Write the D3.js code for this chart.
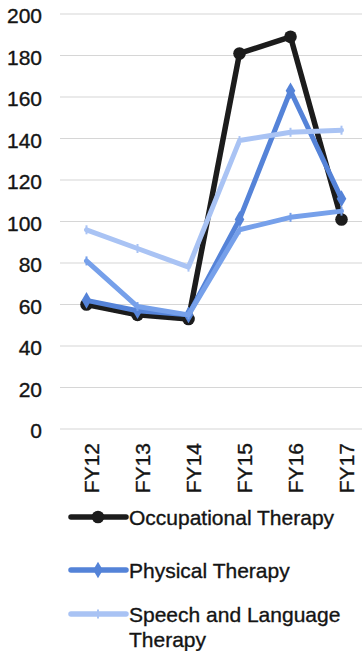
<!DOCTYPE html>
<html>
<head>
<meta charset="utf-8">
<script src="https://cdn.jsdelivr.net/npm/d3@7/dist/d3.min.js"></script>
<style>
  html, body { margin: 0; padding: 0; background: #fff; }
  svg { display: block; }
  text { font-family: "Liberation Sans", Arial, sans-serif; fill: #141414; stroke: #141414; stroke-width: 0.35px; }
</style>
</head>
<body>
<div id="chart"></div>
<script>
// Fiscal years on the category axis
const years = ["FY12", "FY13", "FY14", "FY15", "FY16", "FY17"];
const yTicks = [0, 20, 40, 60, 80, 100, 120, 140, 160, 180, 200];

// Caseload per therapy type
const occupational = [60, 55, 53, 181, 189, 101];
const physical = [62, 57, 55, 101, 163, 111];
const speechLanguage = [96, 87, 78, 139, 143, 144];
const fourthSeries = [81, 59, 55, 96, 102, 105];

const seriesNames = ["Occupational Therapy", "Physical Therapy", "Speech and Language Therapy", "Series 4"];
const seriesValues = [occupational, physical, speechLanguage, fourthSeries];

const W = 362, H = 651;
const colors = ["#1c1c1c", "#5483d8", "#a9c3f4", "#76a0ea"];
const markers = ["circle", "diamond", "tick", "tick"];

const svg = d3.select("#chart").append("svg").attr("width", W).attr("height", H);

// Slight softening applied to the plotted marks
const defs = svg.append("defs");
defs.append("filter").attr("id", "soft")
  .append("feGaussianBlur").attr("stdDeviation", 0.45);

const x = d3.scalePoint().domain(years).range([61, 367]).padding(0.5);
const y = d3.scaleLinear().domain([0, 200]).range([429, 14]);

// Horizontal gridlines
svg.append("g").selectAll("line").data(yTicks).join("line")
  .attr("x1", 60).attr("x2", W)
  .attr("y1", d => y(d)).attr("y2", d => y(d))
  .attr("stroke", "#d6d6d6").attr("stroke-width", 1.2);

// Y axis labels
const yAxis = svg.append("g").attr("transform", "translate(42,0)")
  .call(d3.axisLeft(y).tickValues(yTicks).tickSize(0).tickPadding(0));
yAxis.select(".domain").remove();
yAxis.selectAll("text").attr("font-size", 21).attr("dy", "0.42em")
  .style("font-family", "'Liberation Sans', Arial, sans-serif").attr("fill", "#141414");

// X axis labels, rotated
const xAxis = svg.append("g").attr("transform", "translate(0,443)")
  .call(d3.axisBottom(x).tickSize(0).tickPadding(0));
xAxis.select(".domain").remove();
xAxis.selectAll("text")
  .attr("font-size", 21)
  .attr("text-anchor", "end")
  .attr("transform", "rotate(-90)")
  .attr("x", 0).attr("y", 0).attr("dy", "0.58em")
  .style("font-family", "'Liberation Sans', Arial, sans-serif").attr("fill", "#141414");

const line = d3.line().x((d, i) => x(years[i])).y(d => y(d));

function drawMarker(g, kind, cx, cy, color) {
  if (kind === "circle") {
    g.append("circle").attr("cx", cx).attr("cy", cy).attr("r", 6.3).attr("fill", color);
  } else if (kind === "diamond") {
    g.append("path").attr("d", d3.symbol(d3.symbolDiamond, 80)())
      .attr("transform", `translate(${cx},${cy})`).attr("fill", color);
  } else {
    g.append("line").attr("x1", cx).attr("x2", cx).attr("y1", cy - 4.5).attr("y2", cy + 4.5)
      .attr("stroke", color).attr("stroke-width", 2);
  }
}

// Series lines, drawn back to front
const plot = svg.append("g").attr("filter", "url(#soft)");
const order = [0, 1, 3, 2];
order.forEach(k => {
  const g = plot.append("g");
  g.append("path").datum(seriesValues[k]).attr("d", line)
    .attr("fill", "none").attr("stroke", colors[k]).attr("stroke-width", k === 0 ? 5.5 : 5)
    .attr("stroke-linejoin", "round").attr("stroke-linecap", "round");
  seriesValues[k].forEach((v, i) => drawMarker(g, markers[k], x(years[i]), y(v), colors[k]));
});

// Legend
const legendRows = [
  { k: 0, y: 517, lines: ["Occupational Therapy"] },
  { k: 1, y: 570, lines: ["Physical Therapy"] },
  { k: 2, y: 614, lines: ["Speech and Language", "Therapy"] }
];
const legend = svg.append("g");
legendRows.forEach(r => {
  const g = legend.append("g");
  g.append("line").attr("x1", 71).attr("x2", 126).attr("y1", r.y).attr("y2", r.y)
    .attr("stroke", colors[r.k]).attr("stroke-width", 5.5).attr("stroke-linecap", "round");
  drawMarker(g, markers[r.k], 98, r.y, colors[r.k]);
  const t = g.append("text").attr("x", 129).attr("y", r.y + 8).attr("font-size", 21);
  r.lines.forEach((s, i) => t.append("tspan").attr("x", 129).attr("dy", i === 0 ? 0 : 25).text(s));
});
</script>
</body>
</html>
